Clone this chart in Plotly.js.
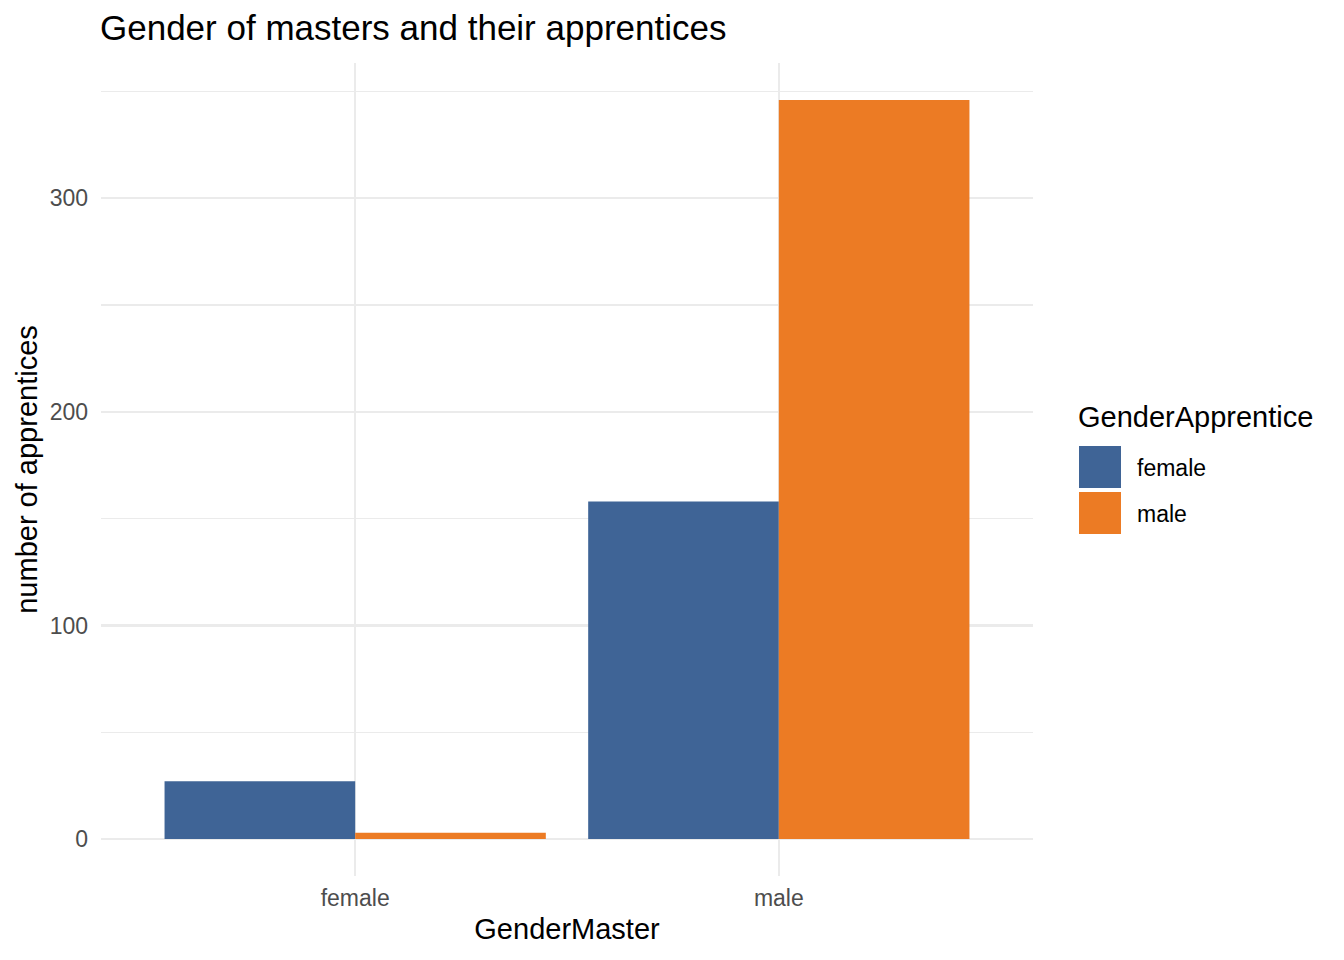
<!DOCTYPE html>
<html>
<head>
<meta charset="utf-8">
<script src="https://cdn.plot.ly/plotly-3.0.1.min.js"></script>
<style>
  html, body { margin: 0; padding: 0; background: #fff; }
  #chart { width: 1344px; height: 960px; }
</style>
</head>
<body>
<div id="chart"></div>
<script>
// ── Data ──────────────────────────────────────────────────────────────────
const masterGenders     = ['female', 'male'];
const apprenticeGenders = ['female', 'male'];
const femaleApprentices = [27, 158];   // per master gender
const maleApprentices   = [3, 346];
const yTicks            = [0, 100, 200, 300];

const colours = ['#3F6496', '#EC7B24'];

// ── Layout geometry (pixels) ──────────────────────────────────────────────
const W = 1344, H = 960;
const M = {l: 101, r: 311, t: 63, b: 84};
const FONT = 'Liberation Sans, Arial, Helvetica, sans-serif';

const maxVal = Math.max(...femaleApprentices, ...maleApprentices);
const yRange = [-0.05 * maxVal, 1.05 * maxVal];

const traces = [
  {x: masterGenders, y: femaleApprentices, name: apprenticeGenders[0]},
  {x: masterGenders, y: maleApprentices,   name: apprenticeGenders[1]},
].map((t, i) => Object.assign(t, {
  type: 'bar',
  marker: {color: colours[i], line: {width: 0}},
  hoverinfo: 'x+y+name',
  showlegend: false,
}));

// Hand-built legend so the keys match ggplot's large squares
const px2x = px => (px - M.l) / (W - M.l - M.r);
const px2y = py => (H - M.b - py) / (H - M.t - M.b);

const shapes = [];
const annotations = [{
  xref: 'paper', yref: 'paper',
  x: px2x(1076), y: px2y(417),
  xanchor: 'left', yanchor: 'middle',
  text: 'GenderApprentice', showarrow: false,
  font: {family: FONT, size: 29, color: '#000'},
}];
apprenticeGenders.forEach((g, i) => {
  const top = 446 + i * 46;
  shapes.push({
    type: 'rect', xref: 'paper', yref: 'paper',
    x0: px2x(1079), x1: px2x(1121),
    y0: px2y(top + 42), y1: px2y(top),
    fillcolor: colours[i], line: {width: 0},
  });
  annotations.push({
    xref: 'paper', yref: 'paper',
    x: px2x(1135), y: px2y(top + 22),
    xanchor: 'left', yanchor: 'middle',
    text: g, showarrow: false,
    font: {family: FONT, size: 23, color: '#000'},
  });
});

const layout = {
  width: W, height: H,
  margin: M,
  paper_bgcolor: '#fff',
  plot_bgcolor: '#fff',
  font: {family: FONT, color: '#000'},
  title: {
    text: 'Gender of masters and their apprentices',
    xref: 'container', yref: 'container',
    x: 100 / W, xanchor: 'left',
    y: 1 - 28 / H, yanchor: 'middle',
    font: {family: FONT, size: 35, color: '#000'},
  },
  barmode: 'group',
  bargap: 0.1,
  bargroupgap: 0,
  xaxis: {
    type: 'category',
    range: [-0.6, 1.6],
    showgrid: true, gridcolor: '#EBEBEB', gridwidth: 2.5,
    zeroline: false, showline: false,
    ticks: '', ticklabelstandoff: 6,
    tickfont: {family: FONT, size: 23, color: '#4D4D4D'},
    title: {text: 'GenderMaster', standoff: 8, font: {family: FONT, size: 29, color: '#000'}},
    fixedrange: true,
  },
  yaxis: {
    range: yRange,
    tickvals: yTicks,
    showgrid: true, gridcolor: '#EBEBEB', gridwidth: 2.5,
    minor: {dtick: 50, tick0: 0, showgrid: true, gridcolor: '#EBEBEB', gridwidth: 1.2},
    zeroline: false, showline: false,
    ticks: '', ticklabelstandoff: 12,
    tickfont: {family: FONT, size: 23, color: '#4D4D4D'},
    title: {text: 'number of apprentices', standoff: 3, font: {family: FONT, size: 29, color: '#000'}},
    fixedrange: true,
  },
  shapes: shapes,
  annotations: annotations,
  showlegend: false,
};

Plotly.newPlot('chart', traces, layout, {displayModeBar: false, staticPlot: true});
</script>
</body>
</html>
